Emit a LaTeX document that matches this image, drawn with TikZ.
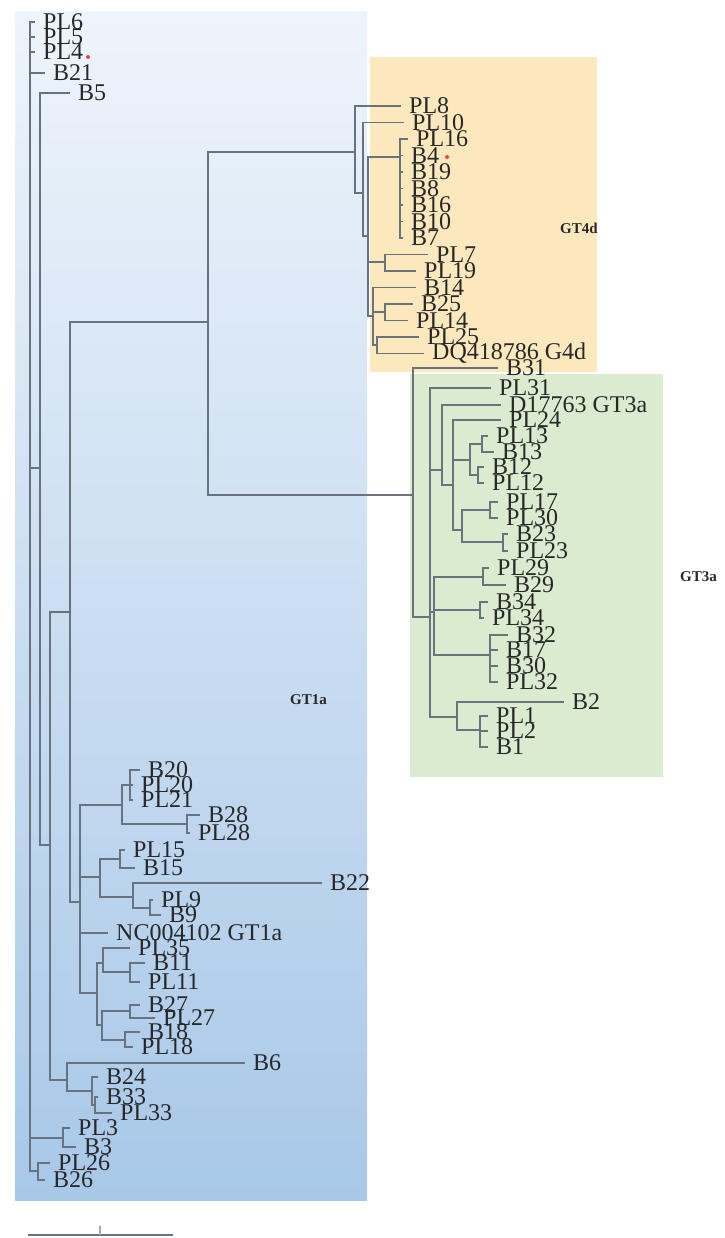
\documentclass[tikz,border=0pt]{standalone}
\usepackage{fontspec}
\setmainfont{Liberation Serif}
\definecolor{branchgray}{RGB}{105,115,128}
\definecolor{labelgray}{RGB}{40,40,40}
\definecolor{bluetop}{RGB}{238,244,251}
\definecolor{bluebottom}{RGB}{168,200,232}
\definecolor{yellowbox}{RGB}{251,233,189}
\definecolor{greenbox}{RGB}{218,235,208}
\begin{document}
\begin{tikzpicture}[x=1pt,y=-1pt,
  branch/.style={draw=branchgray,line width=1.25pt},
  leaf/.style={anchor=west,inner xsep=8pt,inner ysep=0pt,text=labelgray,
    font=\fontsize{24}{24}\selectfont},
  clade/.style={anchor=west,inner sep=0pt,text=labelgray,
    font=\fontsize{15}{15}\selectfont\bfseries}]
  \useasboundingbox (0,0) rectangle (724,1238);
  % coloured genotype boxes
  \shade[top color=bluetop,bottom color=bluebottom] (15,12) rectangle (367,1200);
  \fill[yellowbox] (370,57) rectangle (597,372);
  \fill[greenbox] (410,374) rectangle (663,777);
  % internal nodes
  \coordinate (root) at (30,600);
  \coordinate (nA) at (40,468);
  \coordinate (nB) at (50,845);
  \coordinate (nC) at (70,612);
  \coordinate (nD) at (208,322);
  \coordinate (gt4) at (355,152);
  \coordinate (gt3) at (413,495);
  \coordinate (gt1) at (80,902);
  \coordinate (g1) at (363,193);
  \coordinate (g2) at (368,236);
  \coordinate (g4) at (400,157);
  \coordinate (g5) at (385,262);
  \coordinate (g6) at (373,316);
  \coordinate (g7) at (385,312);
  \coordinate (g8) at (377,345);
  \coordinate (h1) at (430,617);
  \coordinate (h2) at (442,470);
  \coordinate (h3) at (434,612);
  \coordinate (h9) at (457,717);
  \coordinate (h4) at (453,485);
  \coordinate (h5) at (470,460);
  \coordinate (h6) at (462,530);
  \coordinate (h51) at (482,444);
  \coordinate (h52) at (478,475);
  \coordinate (h61) at (490,510);
  \coordinate (h62) at (503,542);
  \coordinate (h31) at (483,577);
  \coordinate (h32) at (480,610);
  \coordinate (h33) at (490,655);
  \coordinate (h91) at (480,730);
  \coordinate (q1) at (122,805);
  \coordinate (q11) at (130,785);
  \coordinate (q12) at (187,824);
  \coordinate (q2) at (100,877);
  \coordinate (q21) at (120,859);
  \coordinate (q22) at (133,897);
  \coordinate (q23) at (150,908);
  \coordinate (q3) at (97,993);
  \coordinate (q31) at (103,963);
  \coordinate (q311) at (130,972);
  \coordinate (q32) at (102,1025);
  \coordinate (q321) at (130,1011);
  \coordinate (q322) at (125,1040);
  \coordinate (q4) at (67,1080);
  \coordinate (q41) at (92,1091);
  \coordinate (q42) at (95,1105);
  \coordinate (q5) at (63,1138);
  \coordinate (q6) at (38,1171);
  % leaves (tip x, y)
  \foreach \n/\x/\y in {PL6/35/22,PL5/35/37,PL4/35/52,B21/45/73,B5/70/93,
    PL8/401/106,PL10/404/122.5,PL16/408/139,B4/403/155.5,B19/403/172,
    B8/403/188.5,B16/403/205,B10/403/221.5,B7/403/238,PL7/428/254.5,
    PL19/416/271,B14/416/287.5,B25/413/304,PL14/408/320.5,PL25/419/337,
    B31/498/368,PL31/491/388,PL24/501/420,PL13/488/436,B13/494/452,
    B12/484/467,PL12/484/483,PL17/498/502,PL30/498/518,B23/508/534,
    PL23/508/551,PL29/489/568,B29/506/585,B34/488/602,PL34/484/618,
    B32/508/635,B17/498/650,B30/498/666,PL32/498/682,B2/564/702,
    PL1/488/716,PL2/488/731,B1/488/747,
    B20/140/770,PL20/133/785,PL21/133/800,B28/200/815,PL28/190/833,
    PL15/125/850,B15/135/868,B22/322/883,PL9/153/900,B9/161/915,
    PL35/130/948,B11/145/963,PL11/140/982,B27/140/1005,PL27/155/1018,
    B18/140/1032,PL18/133/1047,B6/245/1063,B24/98/1077,B33/98/1097,
    PL33/112/1113,PL3/70/1128,B3/76/1147,PL26/50/1163,B26/45/1180}
    \node[leaf] (\n) at (\x,\y) {\n};
  \node[leaf] (DQ) at (424,353.5) {DQ418786 G4d};
  \node[leaf] (D17763) at (501,405) {D17763 GT3a};
  \node[leaf] (NC) at (108,933) {NC004102 GT1a};
  % branches between internal nodes
  \foreach \p/\c in {root/nA,root/q5,root/q6,nA/nB,nB/nC,nB/q4,nC/nD,nC/gt1,
    nD/gt4,nD/gt3,gt4/g1,g1/g2,g2/g4,g2/g5,g2/g6,g6/g7,g6/g8,
    gt3/h1,h1/h2,h1/h3,h1/h9,h2/h4,h4/h5,h4/h6,h5/h51,h5/h52,h6/h61,h6/h62,
    h3/h31,h3/h32,h3/h33,h9/h91,
    gt1/q1,gt1/q2,gt1/q3,q1/q11,q1/q12,q2/q21,q2/q22,q22/q23,
    q3/q31,q31/q311,q3/q32,q32/q321,q32/q322,q4/q41,q41/q42}
    \draw[branch] (\p) |- (\c);
  % branches to leaves
  \foreach \p/\c in {root/PL6,root/PL5,root/PL4,root/B21,nA/B5,
    gt4/PL8,g1/PL10,g4/PL16,g4/B4,g4/B19,g4/B8,g4/B16,g4/B10,g4/B7,
    g5/PL7,g5/PL19,g6/B14,g7/B25,g7/PL14,g8/PL25,g8/DQ,
    gt3/B31,h1/PL31,h2/D17763,h4/PL24,h51/PL13,h51/B13,h52/B12,h52/PL12,
    h61/PL17,h61/PL30,h62/B23,h62/PL23,h31/PL29,h31/B29,h32/B34,h32/PL34,
    h33/B32,h33/B17,h33/B30,h33/PL32,h9/B2,h91/PL1,h91/PL2,h91/B1,
    q11/B20,q11/PL20,q11/PL21,q12/B28,q12/PL28,q21/PL15,q21/B15,
    q22/B22,q23/PL9,q23/B9,gt1/NC,q31/PL35,q311/B11,q311/PL11,
    q321/B27,q321/PL27,q322/B18,q322/PL18,q4/B6,q41/B24,q42/B33,q42/PL33,
    q5/PL3,q5/B3,q6/PL26,q6/B26}
    \draw[branch] (\p) |- (\c.west);
  % marked samples
  \fill[red!75] (88,57) circle (2);
  \fill[red!75] (447,157) circle (2);
  % genotype names
  \node[clade] (GT4d) at (560,228) {GT4d};
  \node[clade] (GT3a) at (680,577) {GT3a};
  \node[clade] (GT1a) at (290,700) {GT1a};
  % scale bar
  \coordinate (sb1) at (28,1235);
  \coordinate (sb2) at (173,1235);
  \draw[draw=branchgray,line width=2.5pt] (sb1) -- (sb2);
  \draw[draw=branchgray!60,line width=1.5pt] (100,1226) -- (100,1235);
\end{tikzpicture}
\end{document}
